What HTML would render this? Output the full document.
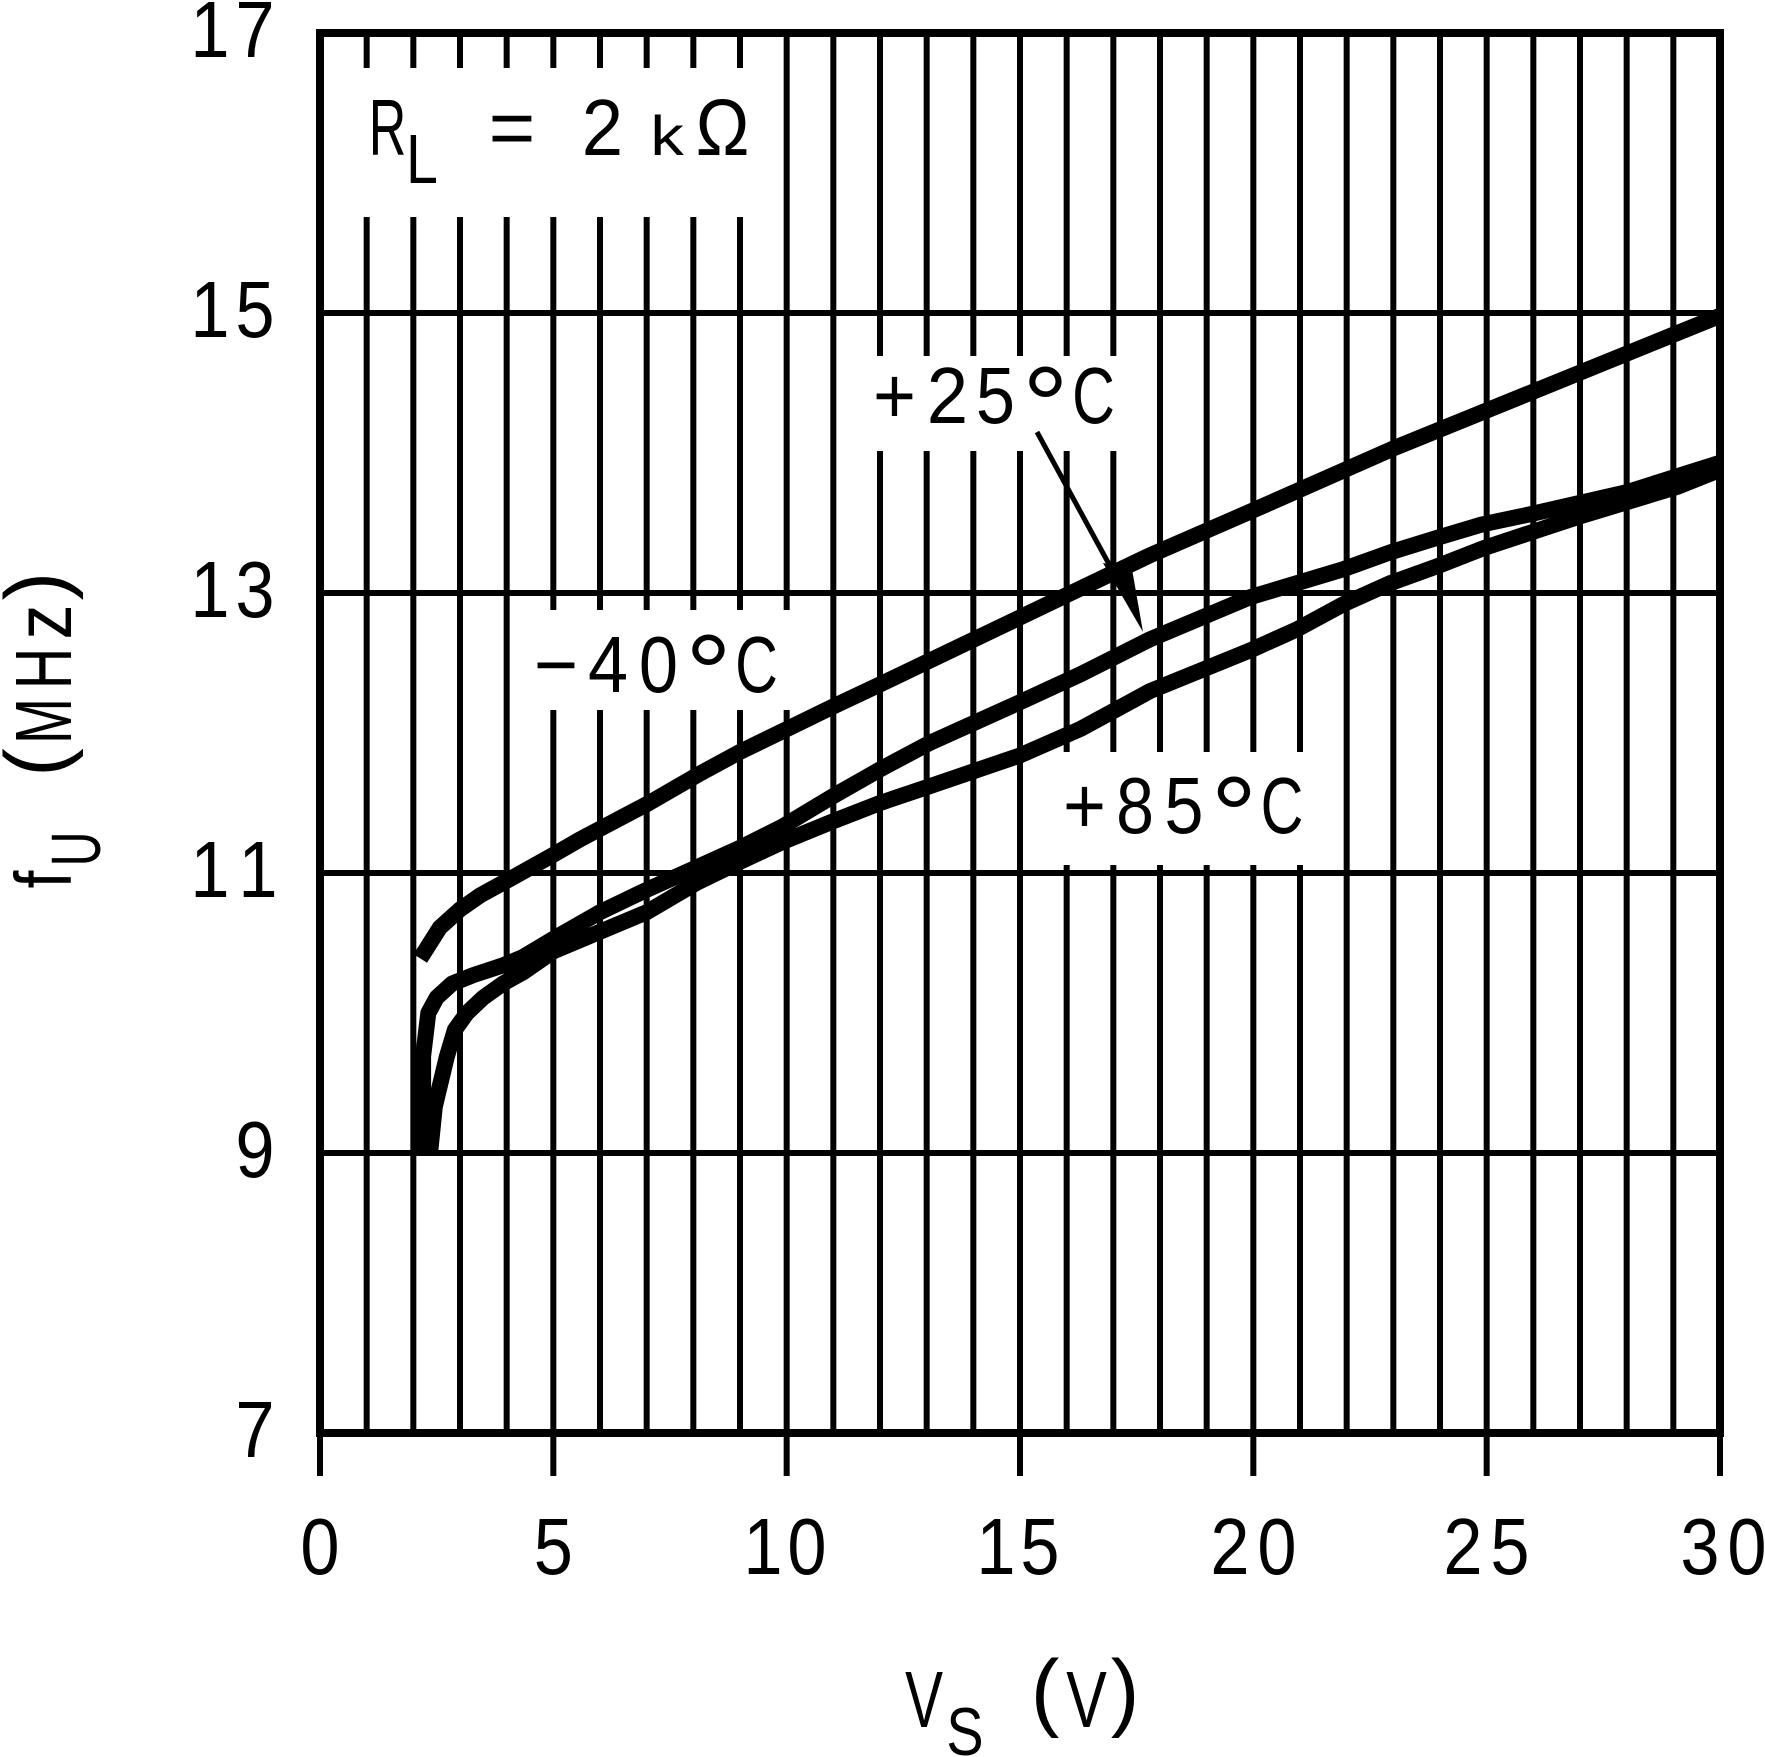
<!DOCTYPE html>
<html>
<head>
<meta charset="utf-8">
<style>
html,body{margin:0;padding:0;background:#fff;}
svg{display:block}
text{font-family:"Liberation Sans",Arial,sans-serif;font-size:80px;text-anchor:middle;fill:#000}
</style>
</head>
<body>
<svg width="1765" height="1757" viewBox="0 0 1765 1757" xmlns="http://www.w3.org/2000/svg">
<rect x="0" y="0" width="1765" height="1757" fill="#fff"/>
<!-- vertical grid -->
<path stroke="#000" stroke-width="6" fill="none" d="M366.67 33V1433M413.33 33V1433M460 33V1433M506.67 33V1433M553.33 33V1433M600 33V1433M646.67 33V1433M693.33 33V1433M740 33V1433M786.67 33V1433M833.33 33V1433M880 33V1433M926.67 33V1433M973.33 33V1433M1020 33V1433M1066.67 33V1433M1113.33 33V1433M1160 33V1433M1206.67 33V1433M1253.33 33V1433M1300 33V1433M1346.67 33V1433M1393.33 33V1433M1440 33V1433M1486.67 33V1433M1533.33 33V1433M1580 33V1433M1626.67 33V1433M1673.33 33V1433"/>
<!-- horizontal grid -->
<path stroke="#000" stroke-width="6" fill="none" d="M320 313H1720M320 593H1720M320 873H1720M320 1153H1720"/>
<!-- label boxes -->
<rect x="324" y="68" width="441" height="149" fill="#fff"/>
<rect x="515" y="610" width="295" height="100" fill="#fff"/>
<rect x="845" y="356" width="300" height="95" fill="#fff"/>
<rect x="1040" y="752" width="285" height="113" fill="#fff"/>
<!-- border -->
<rect x="320" y="33" width="1400" height="1400" fill="none" stroke="#000" stroke-width="8"/>
<!-- x ticks -->
<path stroke="#000" stroke-width="6" fill="none" d="M320 1433V1476M553.33 1433V1476M786.67 1433V1476M1020 1433V1476M1253.33 1433V1476M1486.67 1433V1476M1720 1433V1476"/>
<!-- curves -->
<g fill="none" stroke="#000" stroke-width="16" stroke-linejoin="round" stroke-linecap="butt">
<polyline points="420.3,958.4 439.9,927.6 460,909.4 480.1,895.4 513.2,877.2 553.3,854.8 579.9,839.4 649,803 699.9,773.6 738.6,752.6 833.3,706.4 880.9,684 1024.2,615.4 1079.7,588.8 1150.2,555.2 1243.5,514.6 1395.7,447.4 1720,315.8"/>
<polyline points="423.1,1153 423.1,1056.4 428.3,1013 436.7,997.6 452.1,983.6 473.1,975.2 502.9,965.4 523,957 553.3,938.8 600,912.2 646.7,889.8 696.6,867.4 740,847.8 782,826.8 833.3,796 880,769.4 929.9,742.8 1020,702.2 1080.7,674.2 1150.2,639.2 1250.1,597.2 1343.4,569.2 1390.1,552.4 1435.3,538.4 1482,524.4 1528.7,514.6 1626.7,492.2 1720,462.8"/>
<polyline points="430.1,1153 434.8,1106.8 446.9,1056.4 454.9,1029.8 467,1013 483.3,997.6 502.9,983.6 523,972.4 553.3,951.4 600,931.8 646.7,912.2 696.6,882.8 740,861.8 782,842.2 833.3,821.2 880,803 929.9,786.2 1020,755.4 1080.7,728.8 1150.2,691 1250.1,650.4 1296.8,629.4 1343.4,604.2 1390.1,583.2 1436.8,566.4 1483.5,548.2 1530.1,532.8 1576.8,517.4 1678,486.6 1720,469.8"/>
</g>
<!-- arrow -->
<line x1="1037" y1="432" x2="1110" y2="566" stroke="#000" stroke-width="5"/>
<polygon points="1103,563 1132,569 1143,632" fill="#000"/>

<!-- y tick labels -->
<text transform="translate(210,57) scale(0.88,1)">1</text>
<text transform="translate(255,57) scale(0.88,1)">7</text>
<text transform="translate(210,337) scale(0.88,1)">1</text>
<text transform="translate(255,337) scale(0.88,1)">5</text>
<text transform="translate(210,617) scale(0.88,1)">1</text>
<text transform="translate(255,617) scale(0.88,1)">3</text>
<text transform="translate(210,897) scale(0.88,1)">1</text>
<text transform="translate(258,897) scale(0.88,1)">1</text>
<text transform="translate(255,1177) scale(0.88,1)">9</text>
<text transform="translate(255,1457) scale(0.88,1)">7</text>

<!-- x tick labels -->
<text transform="translate(320,1574) scale(0.88,1)">0</text>
<text transform="translate(553.3,1574) scale(0.88,1)">5</text>
<text transform="translate(763,1574) scale(0.88,1)">1</text>
<text transform="translate(807,1574) scale(0.88,1)">0</text>
<text transform="translate(996,1574) scale(0.88,1)">1</text>
<text transform="translate(1040,1574) scale(0.88,1)">5</text>
<text transform="translate(1230,1574) scale(0.88,1)">2</text>
<text transform="translate(1277,1574) scale(0.88,1)">0</text>
<text transform="translate(1463,1574) scale(0.88,1)">2</text>
<text transform="translate(1510,1574) scale(0.88,1)">5</text>
<text transform="translate(1700,1574) scale(0.88,1)">3</text>
<text transform="translate(1747,1574) scale(0.88,1)">0</text>

<!-- R_L = 2 kΩ -->
<text transform="translate(387.5,155) scale(0.65,1)">R</text>
<text transform="translate(422,183) scale(0.82,1)" style="font-size:70px">L</text>
<text transform="translate(512,155)">=</text>
<text transform="translate(602.5,155) scale(0.93,1)">2</text>
<text transform="translate(667,155) scale(1.2,1)" style="font-size:56px">k</text>
<text transform="translate(722.5,155) scale(0.9,1)">Ω</text>

<!-- +25°C -->
<text transform="translate(894.5,423) scale(0.92,1)">+</text>
<text transform="translate(947.5,423) scale(0.93,1)">2</text>
<text transform="translate(995.5,423) scale(0.88,1)">5</text>
<text transform="translate(1045.5,443) scale(1.05,1)" style="font-size:110px">°</text>
<text transform="translate(1093.5,423) scale(0.74,1)">C</text>

<!-- -40°C -->
<text transform="translate(556,692) scale(0.95,1)">−</text>
<text transform="translate(608,692) scale(0.9,1)">4</text>
<text transform="translate(658.5,692) scale(0.88,1)">0</text>
<text transform="translate(708.5,711) scale(1.05,1)" style="font-size:110px">°</text>
<text transform="translate(756.5,692) scale(0.74,1)">C</text>

<!-- +85°C -->
<text transform="translate(1084.5,833) scale(0.92,1)">+</text>
<text transform="translate(1135,833) scale(0.85,1)">8</text>
<text transform="translate(1184,833) scale(0.88,1)">5</text>
<text transform="translate(1234,853) scale(1.05,1)" style="font-size:110px">°</text>
<text transform="translate(1282,833) scale(0.74,1)">C</text>

<!-- x title V_S (V) -->
<text transform="translate(924,1727) scale(0.71,1)">V</text>
<text transform="translate(965,1755) scale(0.82,1)" style="font-size:68px">S</text>
<text transform="translate(1045,1720)" style="font-size:86px">(</text>
<text transform="translate(1086.5,1727) scale(0.76,1)">V</text>
<text transform="translate(1125,1720)" style="font-size:86px">)</text>

<!-- y title f_U (MHz) -->
<g transform="translate(71,889) rotate(-90)">
<text transform="translate(9.5,0) scale(0.8,1)">f</text>
<text transform="translate(40,29) scale(0.69,1)" style="font-size:70px">U</text>
<text transform="translate(126.5,-6)" style="font-size:86px">(</text>
<text transform="translate(168,0) scale(0.69,1)">M</text>
<text transform="translate(220.5,0) scale(0.72,1)">H</text>
<text transform="translate(267,0) scale(0.88,1)">z</text>
<text transform="translate(303,-6)" style="font-size:86px">)</text>
</g>
</svg>
</body>
</html>
